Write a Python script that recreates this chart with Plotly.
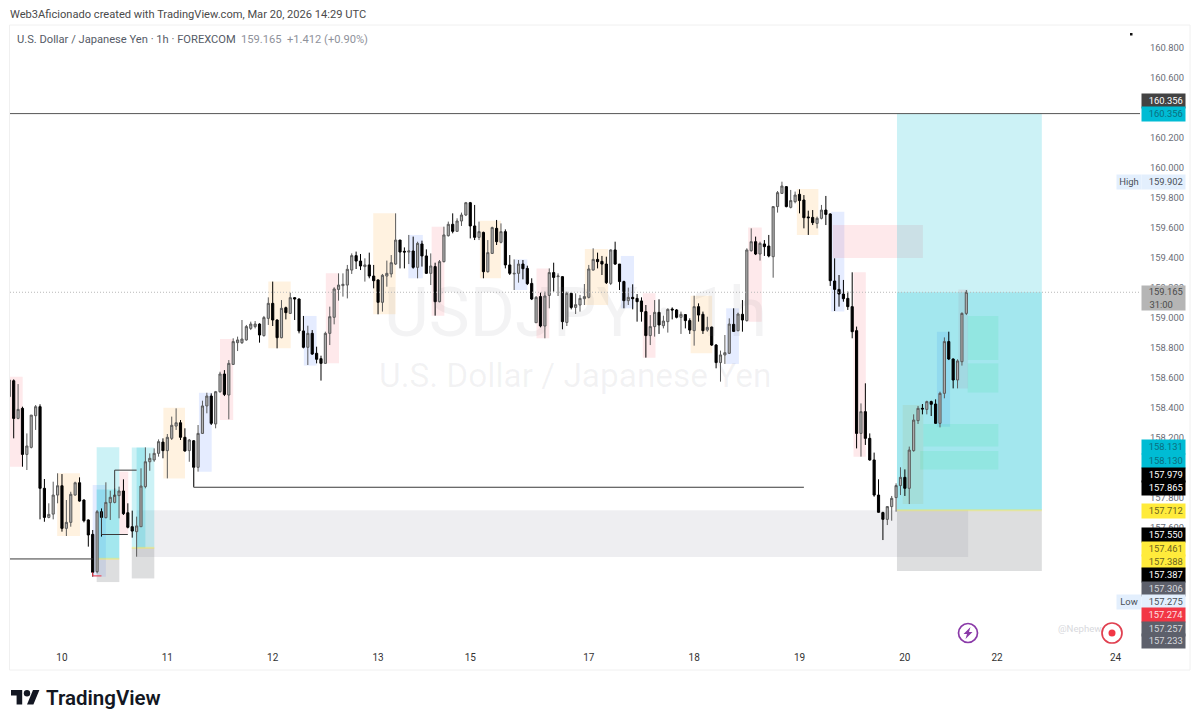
"""USD/JPY 1h candles with supply/demand zones, redrawn with Plotly."""
import plotly.graph_objects as go

opens = [
    158.469,158.575,158.324,158.391,158.084,158.131,158.342,158.402,157.858,157.664,
    157.686,157.813,157.875,157.591,157.631,157.813,157.895,157.780,157.647,157.551,
    157.302,157.702,157.662,157.762,157.764,157.809,157.840,157.695,157.602,157.569,
    157.602,157.869,158.035,158.047,158.091,158.166,158.109,158.191,158.273,158.295,
    158.198,158.109,158.175,157.998,158.224,158.407,158.473,158.287,158.502,158.620,
    158.480,158.684,158.829,158.829,158.847,158.924,158.936,158.953,158.876,158.991,
    159.091,158.980,158.862,159.062,159.024,159.129,159.120,158.907,158.798,158.891,
    158.758,158.722,158.691,158.891,158.998,159.184,159.209,159.213,159.313,159.409,
    159.373,159.336,159.347,159.273,159.247,159.098,159.273,159.287,159.353,159.513,
    159.438,159.433,159.440,159.331,159.487,159.407,159.291,159.336,159.102,159.369,
    159.542,159.618,159.571,159.640,159.680,159.762,159.607,159.531,159.564,159.302,
    159.424,159.591,159.498,159.569,159.347,159.287,159.291,159.353,159.324,159.224,
    158.962,159.136,158.940,159.144,159.296,159.269,159.269,158.964,159.158,159.064,
    159.080,159.122,159.131,159.313,159.384,159.371,159.353,159.224,159.447,159.353,
    159.236,159.109,159.131,159.124,159.107,159.036,158.876,158.936,159.031,158.942,
    158.969,159.053,159.047,158.998,159.016,158.976,158.909,159.069,159.018,158.913,
    158.933,158.813,158.696,158.747,158.758,158.951,158.909,159.018,158.976,159.442,
    159.502,159.420,159.487,159.473,159.402,159.736,159.824,159.869,159.731,159.769,
    159.818,159.780,159.667,159.664,159.624,159.658,159.713,159.687,159.240,159.184,
    159.153,159.124,159.069,158.909,158.224,158.369,158.191,158.047,157.813,157.696,
    157.651,157.736,157.796,157.876,157.931,157.858,158.109,158.309,158.391,158.384,
    158.436,158.420,158.291,158.491,158.836,158.720,158.580,158.702,159.024,
]
highs = [
    158.580,158.584,158.553,158.402,158.224,158.346,158.413,158.418,157.920,157.758,
    157.902,157.958,157.953,157.780,157.835,157.902,157.931,157.784,157.651,157.580,
    157.713,157.724,157.898,157.842,157.858,157.869,157.918,157.758,157.709,157.669,
    157.991,158.131,158.091,158.124,158.184,158.191,158.220,158.336,158.391,158.313,
    158.258,158.187,158.180,158.280,158.442,158.495,158.491,158.507,158.635,158.646,
    158.713,158.858,158.869,158.980,158.947,158.969,158.973,158.958,159.007,159.131,
    159.236,158.984,159.113,159.069,159.162,159.131,159.124,159.007,158.942,158.913,
    158.802,158.742,158.902,159.069,159.198,159.291,159.291,159.347,159.424,159.436,
    159.420,159.391,159.429,159.347,159.251,159.287,159.376,159.413,159.691,159.513,
    159.464,159.547,159.536,159.502,159.509,159.451,159.424,159.362,159.380,159.602,
    159.636,159.691,159.658,159.696,159.767,159.767,159.747,159.636,159.569,159.513,
    159.602,159.647,159.624,159.584,159.413,159.384,159.380,159.380,159.342,159.258,
    159.140,159.162,159.169,159.324,159.362,159.291,159.273,159.169,159.162,159.158,
    159.147,159.220,159.347,159.458,159.429,159.407,159.402,159.451,159.502,159.353,
    159.242,159.196,159.218,159.153,159.131,159.080,159.013,159.113,159.118,159.009,
    159.058,159.064,159.053,159.036,159.020,158.991,159.142,159.091,159.036,159.002,
    158.936,158.820,158.776,158.880,158.991,159.058,159.029,159.113,159.458,159.591,
    159.536,159.502,159.513,159.547,159.740,159.840,159.902,159.873,159.847,159.836,
    159.851,159.813,159.709,159.713,159.669,159.747,159.807,159.691,159.391,159.280,
    159.247,159.169,159.298,158.936,158.424,158.558,158.224,158.096,157.918,157.702,
    157.740,157.807,157.891,157.998,157.984,158.136,158.351,158.407,158.420,158.442,
    158.442,158.451,158.502,158.864,158.902,158.724,158.718,159.031,159.180,
]
lows = [
    158.469,158.191,158.318,158.002,157.980,158.124,158.247,157.651,157.635,157.658,
    157.651,157.758,157.569,157.540,157.602,157.809,157.769,157.631,157.469,157.269,
    157.291,157.536,157.658,157.647,157.758,157.658,157.680,157.591,157.529,157.402,
    157.602,157.858,157.975,158.035,158.069,158.058,157.924,158.180,158.247,158.180,
    158.102,158.035,157.869,157.969,158.220,158.358,158.280,158.258,158.495,158.473,
    158.318,158.680,158.773,158.820,158.842,158.913,158.924,158.829,158.869,158.947,
    158.940,158.791,158.858,158.984,159.020,158.980,158.891,158.791,158.680,158.747,
    158.691,158.576,158.687,158.813,158.951,159.109,159.136,159.124,159.287,159.320,
    159.313,159.236,159.258,159.191,159.018,159.036,159.202,159.264,159.347,159.324,
    159.324,159.353,159.322,159.258,159.336,159.287,159.213,159.009,159.098,159.364,
    159.536,159.558,159.569,159.607,159.673,159.524,159.513,159.513,159.258,159.296,
    159.420,159.480,159.491,159.324,159.280,159.180,159.229,159.251,159.213,159.113,
    158.962,158.931,158.858,159.058,159.169,159.140,158.918,158.940,159.051,159.020,
    159.036,159.080,159.124,159.309,159.324,159.280,159.220,159.213,159.347,159.180,
    159.058,159.080,159.051,158.969,158.969,158.729,158.813,158.869,158.887,158.924,
    158.896,158.984,158.991,158.887,158.924,158.887,158.809,158.969,158.887,158.902,
    158.807,158.658,158.569,158.687,158.753,158.902,158.904,158.902,158.969,159.436,
    159.413,159.376,159.407,159.398,159.262,159.696,159.820,159.731,159.724,159.758,
    159.691,159.591,159.547,159.613,159.591,159.651,159.613,159.207,159.040,159.069,
    159.102,159.047,158.858,158.124,158.069,158.147,158.042,157.802,157.696,157.513,
    157.613,157.642,157.702,157.813,157.807,157.753,158.102,158.287,158.351,158.351,
    158.340,158.287,158.264,158.458,158.713,158.524,158.524,158.676,159.013,
]
closes = [
    158.580,158.324,158.384,158.084,158.140,158.346,158.402,157.858,157.664,157.684,
    157.813,157.875,157.591,157.631,157.818,157.895,157.773,157.642,157.547,157.298,
    157.702,157.664,157.764,157.798,157.813,157.840,157.689,157.598,157.573,157.607,
    157.873,158.035,158.058,158.091,158.169,158.109,158.198,158.278,158.295,158.198,
    158.107,158.180,157.998,158.224,158.407,158.473,158.291,158.502,158.620,158.484,
    158.691,158.836,158.847,158.853,158.936,158.953,158.953,158.880,158.996,159.091,
    158.980,158.862,159.058,159.029,159.129,159.120,158.907,158.798,158.891,158.753,
    158.718,158.691,158.891,159.002,159.187,159.213,159.218,159.318,159.409,159.373,
    159.340,159.347,159.273,159.242,159.098,159.278,159.291,159.362,159.513,159.433,
    159.433,159.440,159.331,159.491,159.407,159.291,159.340,159.102,159.369,159.547,
    159.618,159.571,159.640,159.680,159.762,159.607,159.531,159.569,159.302,159.429,
    159.596,159.502,159.569,159.347,159.291,159.291,159.353,159.322,159.222,159.120,
    159.131,158.940,159.140,159.296,159.264,159.273,158.969,159.158,159.064,159.082,
    159.124,159.136,159.320,159.384,159.369,159.353,159.229,159.447,159.353,159.236,
    159.109,159.131,159.122,159.102,159.036,158.876,158.936,159.031,158.947,158.973,
    159.051,159.047,158.998,159.018,158.976,158.913,159.069,159.013,158.909,158.931,
    158.813,158.696,158.747,158.762,158.953,158.904,159.020,158.980,159.447,159.502,
    159.420,159.491,159.469,159.407,159.736,159.829,159.873,159.736,159.776,159.813,
    159.776,159.662,159.662,159.629,159.658,159.713,159.684,159.242,159.184,159.153,
    159.122,159.069,158.902,158.224,158.369,158.191,158.047,157.813,157.698,157.651,
    157.736,157.791,157.876,157.931,157.858,158.113,158.313,158.391,158.387,158.436,
    158.418,158.291,158.491,158.836,158.720,158.580,158.707,159.024,159.165,
]

day_ticks = [12, 36, 60, 84, 105, 132, 156, 180, 204, 225, 252]
day_labels = ["10", "11", "12", "13", "15", "17", "18", "19", "20", "22", "24"]
price_ticks = [160.8, 160.6, 160.2, 160.0, 159.8, 159.6, 159.4, 159.2, 159.0,
               158.8, 158.6, 158.4, 158.2, 157.8, 157.6]

# zones drawn on the chart, in bar numbers and prices
zone_kinds = ["pink", "orange", "blue", "pink", "blue", "pink", "orange", "orange", "blue", "pink",
              "orange", "blue", "pink", "orange", "blue", "pink", "orange", "blue", "pink", "orange",
              "blue", "pink", "orange", "blue", "pink", "pink", "orange", "blue", "pink",
              "band", "teal", "teal", "stop", "teal", "teal", "stop", "teal", "teal", "stop",
              "green", "green", "green", "green"]
zone_starts = [0.16, 10.9, 19, 25.06, 43.2, 48, 35.1, 59, 67.1, 72.1,
               82.9, 90.9, 96.2, 107.2, 115, 120.1, 131.1, 139.3, 144.3, 155.2,
               163.3, 168.3, 179.4, 187.2, 192.3, 187.6, 203.5, 211.3, 216.2,
               29, 19.9, 19.9, 19.9, 27.9, 29, 27.9, 202.2, 202.2, 202.2,
               218.3, 218.3, 208.2, 207.5]
zone_ends = [3.05, 16.1, 22, 27.1, 46.1, 51, 40.03, 64.1, 70, 75.1,
             88, 94.2, 99.1, 112, 118, 123, 136.4, 142.3, 147.2, 160.1,
             166.2, 171.4, 184.3, 190.2, 195.1, 208.1, 208.2, 214.3, 218.4,
             218.4, 25.06, 25.06, 25.06, 33.03, 31, 33.03, 235.2, 235.2, 235.2,
             225.3, 225.3, 225.3, 225.3]
zone_tops = [158.602, 157.958, 157.880, 157.969, 158.495, 158.853, 158.395, 159.236, 159.007, 159.291,
             159.691, 159.547, 159.602, 159.642, 159.384, 159.324, 159.453, 159.407, 159.158, 159.142,
             159.058, 159.596, 159.853, 159.702, 159.298, 159.613, 158.413, 158.902, 159.184,
             157.712, 158.131, 157.850, 157.388, 158.130, 158.130, 157.461, 160.356, 159.165, 157.712,
             159.007, 158.691, 158.287, 158.107]
zone_bottoms = [158.002, 157.540, 157.269, 157.553, 157.969, 158.313, 157.924, 158.791, 158.676, 158.691,
                159.018, 159.258, 159.009, 159.258, 159.180, 158.858, 159.080, 159.058, 158.729, 158.758,
                158.687, 158.969, 159.547, 159.036, 158.069, 159.393, 157.753, 158.269, 158.524,
                157.400, 157.388, 157.388, 157.233, 157.461, 157.461, 157.257, 157.712, 157.712, 157.306,
                158.713, 158.496, 158.136, 157.984]

# black structure lines, as (bar, price) runs
left_line_bars = [0, 19]
left_line_prices = [157.387, 157.387]
low_line_bars = [21, 21, 27]
low_line_prices = [157.702, 157.550, 157.550]
mid_line_bars = [24, 24, 29]
mid_line_prices = [157.802, 157.979, 157.979]
long_line_bars = [42, 42, 181]
long_line_prices = [157.998, 157.865, 157.865]
red_line_bars = [19, 19, 21]
red_line_prices = [157.298, 157.274, 157.274]
top_level = 160.356
last_price = 159.165

chip_texts = ["160.356", "160.356", "159.902", "159.165<br>31:00&nbsp;&nbsp;&nbsp;&nbsp;", "158.131", "158.130", "157.979",
              "157.865", "157.712", "157.550", "157.461", "157.388", "157.387", "157.306", "157.275",
              "157.274", "157.257", "157.233"]
chip_rows = [100.5, 114.5, 182, 298, 447.5, 461, 474.5, 488, 510.5, 535, 548.5, 562, 575, 588.5,
             602, 615, 628.5, 640.5]
chip_fills = ["#434343", "#00bcd4", "#e3effd", "#b5b5b5", "#00bcd4", "#00bcd4", "#000000",
              "#000000", "#ffeb3b", "#000000", "#ffeb3b", "#ffeb3b", "#000000", "#5d606b", "#e3effd",
              "#f23645", "#5d606b", "#5d606b"]
chip_inks = ["#ffffff", "#0b6f80", "#4a5058", "#4a4a4a", "#0b6f80", "#0b6f80", "#ffffff",
             "#ffffff", "#6b6420", "#ffffff", "#6b6420", "#6b6420", "#ffffff", "#d8d9dd", "#4a5058",
             "#fde0e3", "#d8d9dd", "#d8d9dd"]

ZONE_FILL = {
    "pink": "rgba(242,54,69,0.11)",
    "orange": "rgba(255,152,0,0.12)",
    "blue": "rgba(41,98,255,0.12)",
    "teal": "rgba(0,188,212,0.2)",
    "stop": "rgba(120,122,128,0.25)",
    "band": "rgba(120,123,145,0.13)",
    "green": "rgba(0,230,118,0.1)",
}
FONT = "Roboto"
LEFT, RIGHT, TOP, BOTTOM = 10, 1140, 25, 645


def px(x):
    return (x - LEFT) / (RIGHT - LEFT)


def py(y):
    return 1 - (y - TOP) / (BOTTOM - TOP)


def line_trace(xs, ys, color="#3a3a3a", width=1, dash="solid"):
    return go.Scatter(x=xs, y=ys, mode="lines", hoverinfo="skip", showlegend=False,
                      line=dict(color=color, width=width, dash=dash))


bars = list(range(len(opens)))
fig = go.Figure()
fig.add_trace(go.Candlestick(
    x=bars, open=opens, high=highs, low=lows, close=closes, showlegend=False, whiskerwidth=0,
    increasing=dict(line=dict(color="#5a5a5a", width=1), fillcolor="#b0b0b0"),
    decreasing=dict(line=dict(color="#000000", width=1), fillcolor="#000000"),
))
for xs, ys in [(left_line_bars, left_line_prices), (low_line_bars, low_line_prices),
               (mid_line_bars, mid_line_prices), (long_line_bars, long_line_prices)]:
    fig.add_trace(line_trace(xs, ys))
fig.add_trace(line_trace(red_line_bars, red_line_prices, color="#f23645"))
fig.add_trace(line_trace([0.16, 257.56], [top_level, top_level], color="#555555"))
fig.add_trace(line_trace([0.16, 257.56], [last_price, last_price], color="#b8b8b8", dash="1px,2px"))

shapes = []
for kind, x0, x1, y0, y1 in zip(zone_kinds, zone_starts, zone_ends, zone_tops, zone_bottoms):
    shapes.append(dict(type="rect", xref="x", yref="y", x0=x0, x1=x1, y0=y0, y1=y1, layer="below",
                       fillcolor=ZONE_FILL[kind], line=dict(width=0)))

# entry lines of the three long positions
for x0, x1, y in [(19.9, 25.06, 157.388), (27.9, 33.03, 157.461), (202.2, 235.2, 157.712)]:
    shapes.append(dict(type="line", xref="x", yref="y", x0=x0, x1=x1, y0=y, y1=y, layer="below",
                       line=dict(color="rgba(255,235,59,0.4)", width=2)))

# pane border
shapes.append(dict(type="rect", xref="paper", yref="paper", x0=px(9.5), x1=px(1190), y0=py(25), y1=py(670),
                   line=dict(color="#f0f0f0", width=1), layer="below"))
# small dot top right
shapes.append(dict(type="rect", xref="paper", yref="paper", x0=px(1130), x1=px(1132.5), y0=py(33), y1=py(35.5),
                   fillcolor="#111111", line=dict(width=0)))
# event icons
shapes.append(dict(type="circle", xref="paper", yref="paper", x0=px(958.5), x1=px(977.5), y0=py(623.5), y1=py(642.5),
                   line=dict(color="#8a3aa8", width=1.7)))
shapes.append(dict(type="path", xref="paper", yref="paper", fillcolor="#8a3aa8", line=dict(width=0),
                   path="M {} {} L {} {} L {} {} L {} {} L {} {} L {} {} Z".format(
                       px(970.5), py(627), px(963.5), py(634), px(967), py(634),
                       px(965.5), py(639), px(972.5), py(632), px(969), py(632))))
shapes.append(dict(type="circle", xref="paper", yref="paper", x0=px(1102), x1=px(1122), y0=py(623), y1=py(643),
                   line=dict(color="#e04050", width=1.7)))
shapes.append(dict(type="circle", xref="paper", yref="paper", x0=px(1108.5), x1=px(1115.5), y0=py(629.5), y1=py(636.5),
                   fillcolor="#f23645", line=dict(width=0)))

# TradingView mark
S = 0.8
def lx(v):
    return px(11 + v * S)
def ly(v):
    return py(686.8 + v * S)
shapes.append(dict(type="path", xref="paper", yref="paper", fillcolor="#131722", line=dict(width=0),
                   path="M {} {} L {} {} L {} {} L {} {} L {} {} L {} {} Z".format(
                       lx(14), ly(22), lx(7), ly(22), lx(7), ly(11), lx(0), ly(11), lx(0), ly(4), lx(14), ly(4))))
shapes.append(dict(type="path", xref="paper", yref="paper", fillcolor="#131722", line=dict(width=0),
                   path="M {} {} L {} {} L {} {} L {} {} Z".format(
                       lx(28), ly(22), lx(20), ly(22), lx(27.5), ly(4), lx(35.5), ly(4))))
shapes.append(dict(type="circle", xref="paper", yref="paper", x0=lx(16), x1=lx(24), y0=ly(4), y1=ly(12),
                   fillcolor="#131722", line=dict(width=0)))


def note(text, x, y, size, color, anchor="left", **kw):
    return dict(text=text, xref="paper", yref="paper", x=px(x), y=py(y), xanchor=anchor, yanchor="middle",
                showarrow=False, font=dict(family=FONT, size=size, color=color, **kw.pop("font", {})), **kw)


annotations = [
    note("Web3Aficionado created with TradingView.com, Mar 20, 2026 14:29 UTC", 8, 14.5, 11.12, "#4a4a4a"),
    note("U.S. Dollar / Japanese Yen · 1h · FOREXCOM", 14.5, 40, 11.15, "#555b66"),
    note("159.165", 239, 40, 11.15, "#8f929b"),
    note("+1.412 (+0.90%)", 285, 40, 11.15, "#8f929b"),
    note("USDJPY · 1h", 575, 312, 69, "rgba(120,123,134,0.09)", anchor="center"),
    note("U.S. Dollar / Japanese Yen", 575, 375, 33.4, "rgba(120,123,134,0.09)", anchor="center"),
    note("@Nephew", 1056, 628, 9.6, "#d8d9dd"),
    note("TradingView", 44, 698, 20.5, "#131722", font=dict(weight=600)),
    note("High", 1116, 182, 9.4, "#4a5058", bgcolor="#e3effd", width=24, height=13.5, borderpad=0),
    note("Low", 1116, 602, 9.4, "#4a5058", bgcolor="#e3effd", width=24, height=13.5, borderpad=0),
]
for text, row, fill, ink in zip(chip_texts, chip_rows, chip_fills, chip_inks):
    tall = "<br>" in text
    label = "<br>".join("&nbsp;&nbsp;" + part for part in text.split("<br>"))
    annotations.append(note(label, 1140.5, row, 9.4, ink, bgcolor=fill, width=43, align="center",
                            height=24 if tall else 13.5, borderpad=0))

fig.update_layout(
    width=1200, height=726, autosize=False,
    margin=dict(l=LEFT, r=1200 - RIGHT, t=TOP, b=726 - BOTTOM),
    paper_bgcolor="#ffffff", plot_bgcolor="#ffffff",
    font=dict(family=FONT, color="#6a6d78"),
    shapes=shapes, annotations=annotations, showlegend=False, hovermode=False,
    xaxis=dict(range=[0.16, 257.56], rangeslider=dict(visible=False), showgrid=False, zeroline=False,
               tickmode="array", tickvals=day_ticks, ticktext=day_labels, ticks="", ticklabelstandoff=5,
               tickfont=dict(family=FONT, size=10, color="#333333")),
    yaxis=dict(range=[156.8133, 160.9467], side="right", showgrid=False, zeroline=False,
               tickmode="array", tickvals=price_ticks, ticktext=["%.3f" % p for p in price_ticks],
               ticks="", ticklabelstandoff=9, ticklabelshift=1, tickfont=dict(family=FONT, size=9.4, color="#6a6d78")),
)

fig.write_html("out.html", config=dict(displayModeBar=False),
               post_script="document.body.style.margin='0';document.body.style.overflow='hidden';")
